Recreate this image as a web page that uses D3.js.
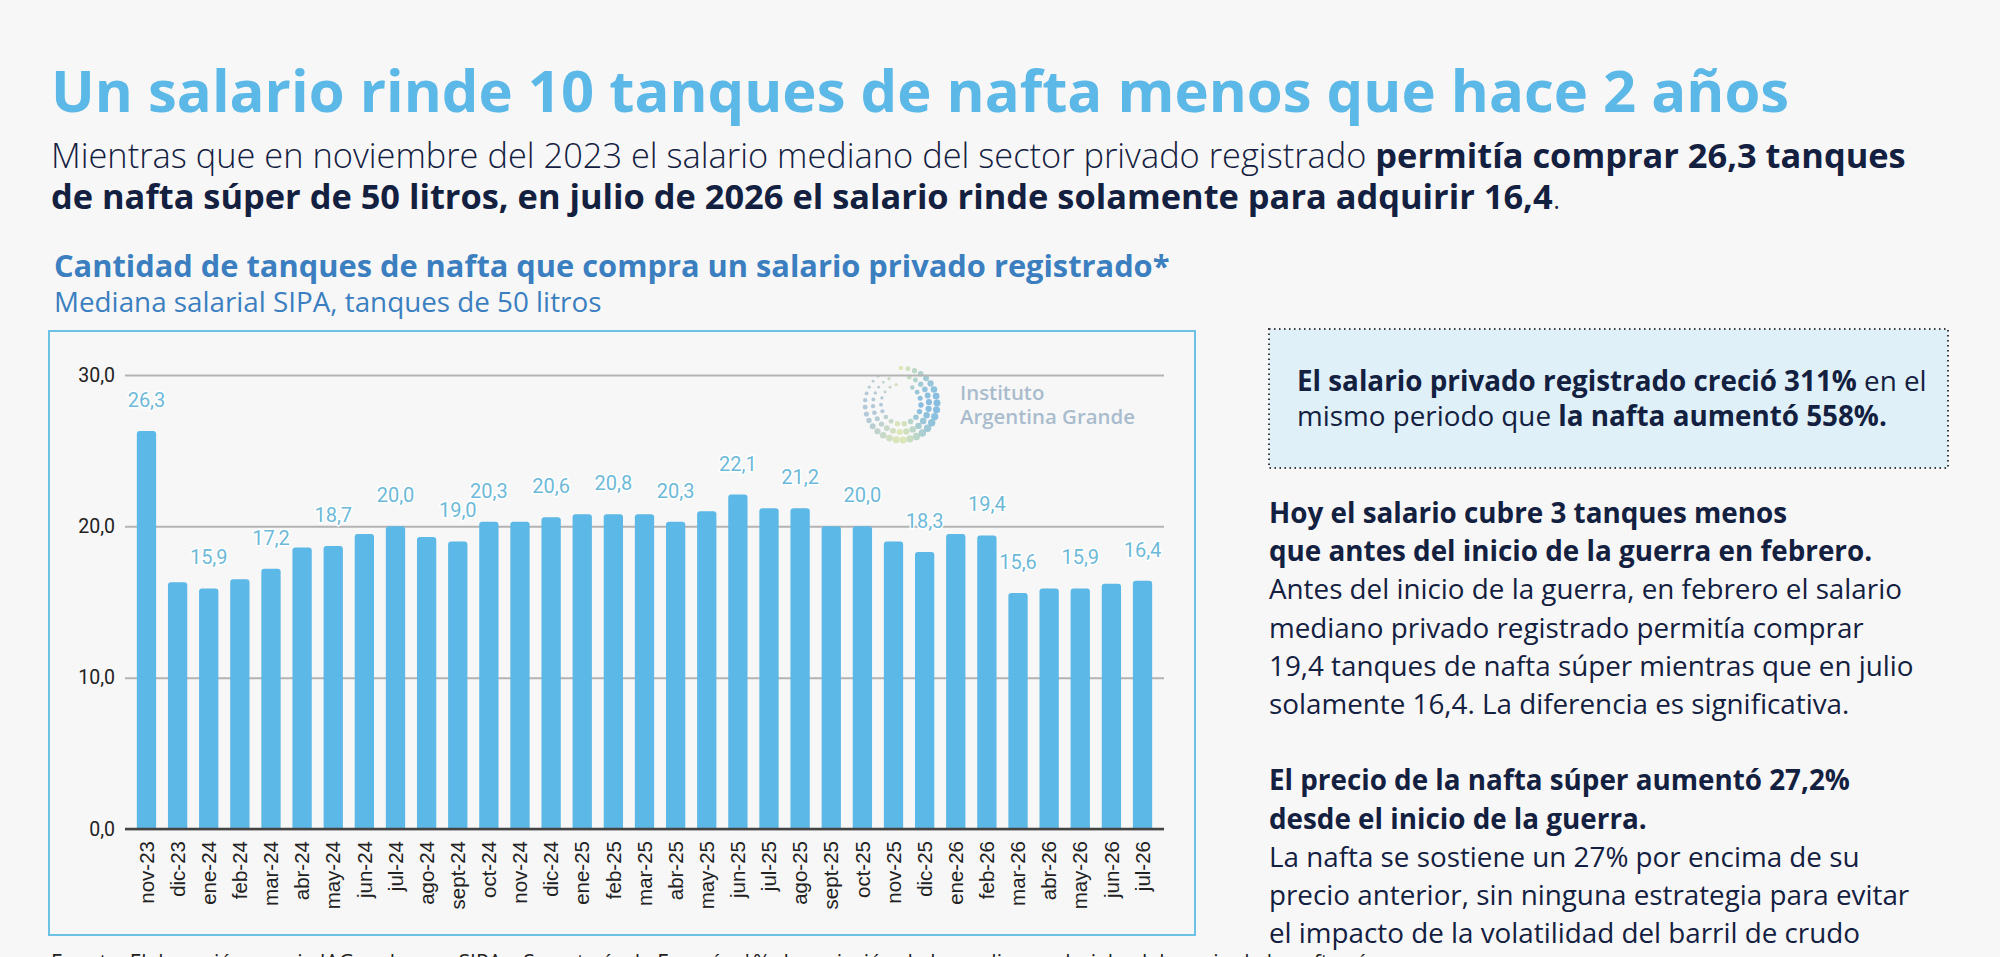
<!DOCTYPE html>
<html lang="es">
<head>
<meta charset="utf-8">
<title>Tanques de nafta por salario</title>
<script src="https://cdn.jsdelivr.net/npm/d3@7"></script>
<style>
  html, body { margin: 0; padding: 0; background: #f7f7f7; }
  svg { display: block; }
  text { white-space: pre; }
</style>
</head>
<body>
<svg id="page" width="2000" height="957"></svg>
<script>
// --- datos ---------------------------------------------------------------
const meses = ['nov-23','dic-23','ene-24','feb-24','mar-24','abr-24','may-24','jun-24','jul-24','ago-24',
  'sept-24','oct-24','nov-24','dic-24','ene-25','feb-25','mar-25','abr-25','may-25','jun-25','jul-25',
  'ago-25','sept-25','oct-25','nov-25','dic-25','ene-26','feb-26','mar-26','abr-26','may-26','jun-26','jul-26'];
const tanques = [26.3,16.3,15.9,16.5,17.2,18.6,18.7,19.5,20.0,19.3,
  19.0,20.3,20.3,20.6,20.8,20.8,20.8,20.3,21.0,22.1,21.2,
  21.2,20.0,20.0,19.0,18.3,19.5,19.4,15.6,15.9,15.9,16.2,16.4];
const mesesConEtiqueta = ['nov-23','ene-24','mar-24','may-24','jul-24','sept-24','oct-24','dic-24','feb-25',
  'abr-25','jun-25','ago-25','oct-25','dic-25','feb-26','mar-26','may-26','jul-26'];
const yTicks = [0, 10, 20, 30];

const titulo = 'Un salario rinde 10 tanques de nafta menos que hace 2 años';
const bajada = [
  [['Mientras que en noviembre del 2023 el salario mediano del sector privado registrado ', 300], ['permitía comprar 26,3 tanques', 700]],
  [['de nafta súper de 50 litros, en julio de 2026 el salario rinde solamente para adquirir 16,4', 700], ['.', 300]]
];
const tituloGrafico = 'Cantidad de tanques de nafta que compra un salario privado registrado*';
const subtituloGrafico = 'Mediana salarial SIPA, tanques de 50 litros';
const recuadro = [
  [['El salario privado registrado creció 311%', 700], [' en el', 400]],
  [['mismo periodo que ', 400], ['la nafta aumentó 558%.', 700]]
];
const parrafos = [
  [['Hoy el salario cubre 3 tanques menos', 700]],
  [['que antes del inicio de la guerra en febrero.', 700]],
  [['Antes del inicio de la guerra, en febrero el salario', 400]],
  [['mediano privado registrado permitía comprar', 400]],
  [['19,4 tanques de nafta súper mientras que en julio', 400]],
  [['solamente 16,4. La diferencia es significativa.', 400]],
  null,
  [['El precio de la nafta súper aumentó 27,2%', 700]],
  [['desde el inicio de la guerra.', 700]],
  [['La nafta se sostiene un 27% por encima de su', 400]],
  [['precio anterior, sin ninguna estrategia para evitar', 400]],
  [['el impacto de la volatilidad del barril de crudo', 400]]
];
const fuente = 'Fuente: Elaboración propia IAG en base a SIPA y Secretaría de Energía. *% de variación de la mediana salarial y del precio de la nafta súper';

// --- layout ----------------------------------------------------------------
const SANS = "'Open Sans', sans-serif";
const NAVY = '#13203f';
const PLOT = { left: 125, right: 1164, top: 375, bottom: 829 };
const es = d3.formatLocale({ decimal: ',', thousands: '.', grouping: [3], currency: ['$', ''] });
const fmt = es.format('.1f');

const svg = d3.select('#page');

function richLine(sel, x, y, parts, size, color) {
  const t = sel.append('text').attr('x', x).attr('y', y)
    .style('font-family', SANS).style('font-size', size + 'px').attr('fill', color);
  t.selectAll('tspan').data(parts).join('tspan')
    .text(d => d[0]).style('font-weight', d => d[1]);
  return t;
}

// Encabezado
svg.append('text').attr('x', 51).attr('y', 112)
  .style('font-family', SANS).style('font-size', '58px').style('font-weight', 700)
  .attr('fill', '#5cb8e6').text(titulo);
bajada.forEach((parts, i) => richLine(svg, 51, 168 + i * 41, parts, 34.4, NAVY));

svg.append('text').attr('x', 54).attr('y', 277)
  .style('font-family', SANS).style('font-size', '30.8px').style('font-weight', 700)
  .attr('fill', '#3b7fc0').text(tituloGrafico);
svg.append('text').attr('x', 54).attr('y', 312)
  .style('font-family', SANS).style('font-size', '27.8px').style('font-weight', 400)
  .attr('fill', '#3b7fc0').text(subtituloGrafico);

// Marco del gráfico
svg.append('rect').attr('x', 49).attr('y', 331).attr('width', 1146).attr('height', 604)
  .attr('fill', '#f7f7f7').attr('stroke', '#6cc2e4').attr('stroke-width', 2);

// Escalas
const x = d3.scaleBand().domain(meses).range([PLOT.left, PLOT.right]).paddingInner(0.38).paddingOuter(0.38);
const y = d3.scaleLinear().domain([0, 30]).range([PLOT.bottom, PLOT.top]);

// Logo (decorativo)
const logo = svg.append('g').attr('transform', 'translate(901,404)');
const anillos = [{ r: 36, n: 30 }, { r: 28, n: 24 }, { r: 20, n: 17 }];
const colorLogo = d3.scaleLinear().domain([0, 0.5, 1]).range(['#6aaedb', '#d9e4a4', '#9fbad2']);
anillos.forEach((a, k) => {
  d3.range(a.n).forEach(i => {
    const t = i / a.n;
    const ang = -Math.PI / 2 + t * 2 * Math.PI * 0.92 + k * 0.3;
    const rr = 1.3 + 2.4 * Math.abs(Math.cos(ang / 2 - 0.4)) * (1 - k * 0.2);
    logo.append('circle').attr('cx', a.r * Math.cos(ang)).attr('cy', a.r * Math.sin(ang))
      .attr('r', rr).attr('fill', colorLogo((Math.cos(ang) * -0.5 + 0.5))).attr('opacity', 0.8);
  });
});
svg.append('text').attr('x', 960).attr('y', 400)
  .style('font-family', SANS).style('font-size', '20.4px').style('font-weight', 600)
  .attr('fill', '#a9bccd').text('Instituto');
svg.append('text').attr('x', 960).attr('y', 424)
  .style('font-family', SANS).style('font-size', '20.4px').style('font-weight', 600)
  .attr('fill', '#a9bccd').text('Argentina Grande');

// Grilla y eje Y
const gy = svg.append('g').attr('transform', `translate(${PLOT.left},0)`)
  .call(d3.axisLeft(y).tickValues(yTicks).tickFormat(fmt)
    .tickSize(-(PLOT.right - PLOT.left)).tickPadding(10));
gy.select('.domain').remove();
gy.selectAll('.tick line').attr('stroke', '#b3b3b3').attr('stroke-width', 2);
gy.selectAll('.tick text').attr('fill', '#222')
  .style('font-family', 'Roboto, sans-serif').style('font-size', '19.5px');

// Barras (esquinas superiores redondeadas)
const bw = x.bandwidth(), rad = 3;
svg.append('g').selectAll('path').data(meses).join('path')
  .attr('fill', '#5cb8e6')
  .attr('d', (m, i) => {
    const x0 = x(m), y0 = y(tanques[i]), yb = y(0);
    return `M${x0},${yb}V${y0 + rad}Q${x0},${y0} ${x0 + rad},${y0}H${x0 + bw - rad}` +
      `Q${x0 + bw},${y0} ${x0 + bw},${y0 + rad}V${yb}Z`;
  });

// Línea base
svg.append('line').attr('x1', PLOT.left).attr('x2', PLOT.right)
  .attr('y1', y(0)).attr('y2', y(0)).attr('stroke', '#444').attr('stroke-width', 2.5);

// Eje X
const gx = svg.append('g').attr('transform', `translate(0,${PLOT.bottom})`)
  .call(d3.axisBottom(x).tickSize(0));
gx.select('.domain').remove();
gx.selectAll('.tick text')
  .attr('transform', 'rotate(-90)').attr('text-anchor', 'end')
  .attr('x', -12).attr('y', 0).attr('dy', '0.35em')
  .attr('fill', '#222').style('font-family', "'Liberation Sans', Arial, sans-serif").style('font-size', '20.5px');

// Etiquetas de valor
svg.append('g').selectAll('text')
  .data(meses.map((m, i) => ({ m, v: tanques[i] })).filter(d => mesesConEtiqueta.includes(d.m)))
  .join('text')
  .attr('x', d => x(d.m) + bw / 2).attr('y', d => y(d.v) - 24)
  .attr('text-anchor', 'middle')
  .style('font-family', 'Roboto, sans-serif').style('font-size', '20px')
  .attr('fill', '#6db9d8').attr('stroke', '#ffffff').attr('stroke-width', 3)
  .style('paint-order', 'stroke').text(d => fmt(d.v));

// Panel derecho: recuadro
svg.append('rect').attr('x', 1269).attr('y', 329).attr('width', 679).attr('height', 139)
  .attr('fill', '#dff0f9').attr('stroke', '#3a3a3a').attr('stroke-width', 2)
  .attr('stroke-dasharray', '1.5 3.5');
recuadro.forEach((parts, i) => richLine(svg, 1297, 391 + i * 35, parts, 27.8, NAVY));

// Panel derecho: párrafos
parrafos.forEach((parts, i) => {
  if (parts) richLine(svg, 1269, 523 + i * 38.2, parts, 27.8, NAVY);
});

// Fuente (cortada por el borde inferior)
svg.append('text').attr('x', 51).attr('y', 970)
  .style('font-family', SANS).style('font-size', '21px').attr('fill', '#222').text(fuente);
</script>
</body>
</html>
